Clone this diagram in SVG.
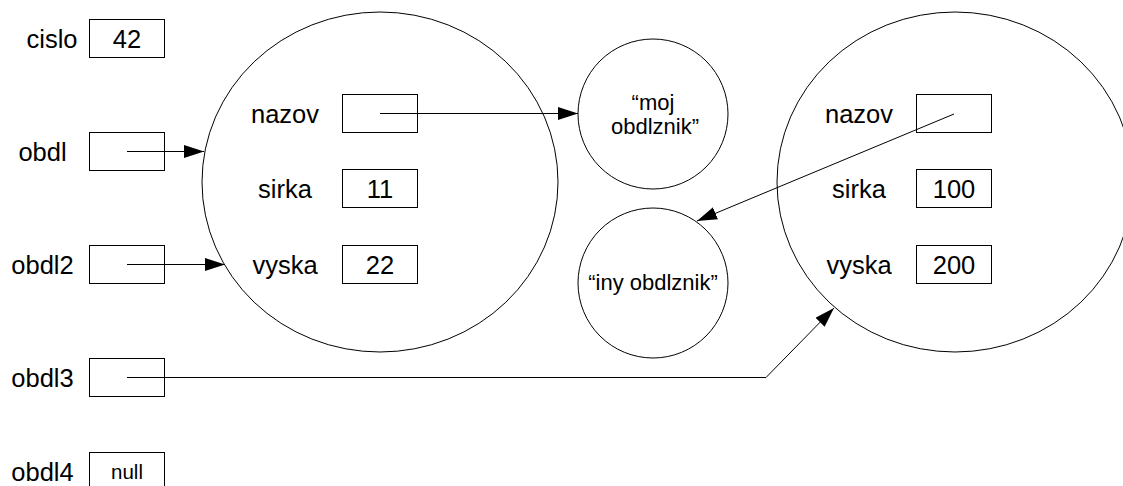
<svg xmlns="http://www.w3.org/2000/svg" width="1123" height="486" viewBox="0 0 1123 486">
<style>
.bg{fill:#fff}
.box{fill:#fff;stroke:#000;stroke-width:1}
.obj{fill:#fff;stroke:#000;stroke-width:1}
.lbl{font-family:"Liberation Sans",Arial,sans-serif;font-size:25.5px;fill:#000;text-anchor:middle;dominant-baseline:central}
.sm{font-family:"Liberation Sans",Arial,sans-serif;font-size:22px;fill:#000;text-anchor:middle;dominant-baseline:central}
.nl{font-family:"Liberation Sans",Arial,sans-serif;font-size:20.5px;fill:#000;text-anchor:middle;dominant-baseline:central}
.con{fill:none;stroke:#000;stroke-width:1}
</style>
<defs>
<marker id="arr" markerUnits="userSpaceOnUse" markerWidth="21" markerHeight="14" refX="20" refY="6.5" orient="auto">
<path d="M0,0 L20,6.5 L0,13 z" fill="#000"/>
</marker>
</defs>
<rect class="bg" x="0" y="0" width="1123" height="486"/>
<g id="obj1">
<ellipse class="obj" cx="380" cy="182" rx="178" ry="170"/>
<text class="lbl" x="285" y="113.5">nazov</text>
<rect class="box" x="342.5" y="94.5" width="75" height="38"/>
<text class="lbl" x="285" y="188.5">sirka</text>
<rect class="box" x="342.5" y="169.5" width="75" height="38"/>
<text class="lbl" x="380" y="188.5">11</text>
<text class="lbl" x="285" y="264.5">vyska</text>
<rect class="box" x="342.5" y="245.5" width="75" height="38"/>
<text class="lbl" x="380" y="264.5">22</text>
</g>
<g id="obj2">
<ellipse class="obj" cx="955" cy="182" rx="178" ry="170"/>
<text class="lbl" x="859" y="113.5">nazov</text>
<rect class="box" x="916.5" y="94.5" width="75" height="38"/>
<text class="lbl" x="859" y="188.5">sirka</text>
<rect class="box" x="916.5" y="169.5" width="75" height="38"/>
<text class="lbl" x="954" y="188.5">100</text>
<text class="lbl" x="859" y="264.5">vyska</text>
<rect class="box" x="916.5" y="245.5" width="75" height="38"/>
<text class="lbl" x="954" y="264.5">200</text>
</g>
<g id="str1">
<circle class="obj" cx="653" cy="114" r="75"/>
<text class="sm" x="653" y="102">“moj</text>
<text class="sm" x="655" y="126">obdlznik”</text>
</g>
<g id="str2">
<circle class="obj" cx="653" cy="283" r="75"/>
<text class="sm" x="653" y="282">“iny obdlznik”</text>
</g>
<g id="cislo">
<text class="lbl" x="52" y="38.5">cislo</text>
<rect class="box" x="89.5" y="19.5" width="75" height="38"/>
<text class="lbl" x="127" y="38.5">42</text>
</g>
<g id="obdl">
<text class="lbl" x="42.5" y="151.5">obdl</text>
<rect class="box" x="89.5" y="132.5" width="75" height="38"/>
</g>
<g id="obdl2">
<text class="lbl" x="42.5" y="264.5">obdl2</text>
<rect class="box" x="89.5" y="245.5" width="75" height="38"/>
</g>
<g id="obdl3">
<text class="lbl" x="42.5" y="377.5">obdl3</text>
<rect class="box" x="89.5" y="358.5" width="75" height="38"/>
</g>
<g id="obdl4">
<text class="lbl" x="42.5" y="471.5">obdl4</text>
<rect class="box" x="89.5" y="452.5" width="75" height="38"/>
<text class="nl" x="127" y="471.5">null</text>
</g>
<g id="connectors">
<path class="con" d="M127,151.5 L204,151.5" marker-end="url(#arr)"/>
<path class="con" d="M127,264.5 L225,264.5" marker-end="url(#arr)"/>
<path class="con" d="M380,113.5 L578,113.5" marker-end="url(#arr)"/>
<path class="con" d="M954,114 L697,221" marker-end="url(#arr)"/>
<path class="con" d="M127,377.5 L766,377.5 L834,308" marker-end="url(#arr)"/>
</g>
</svg>
